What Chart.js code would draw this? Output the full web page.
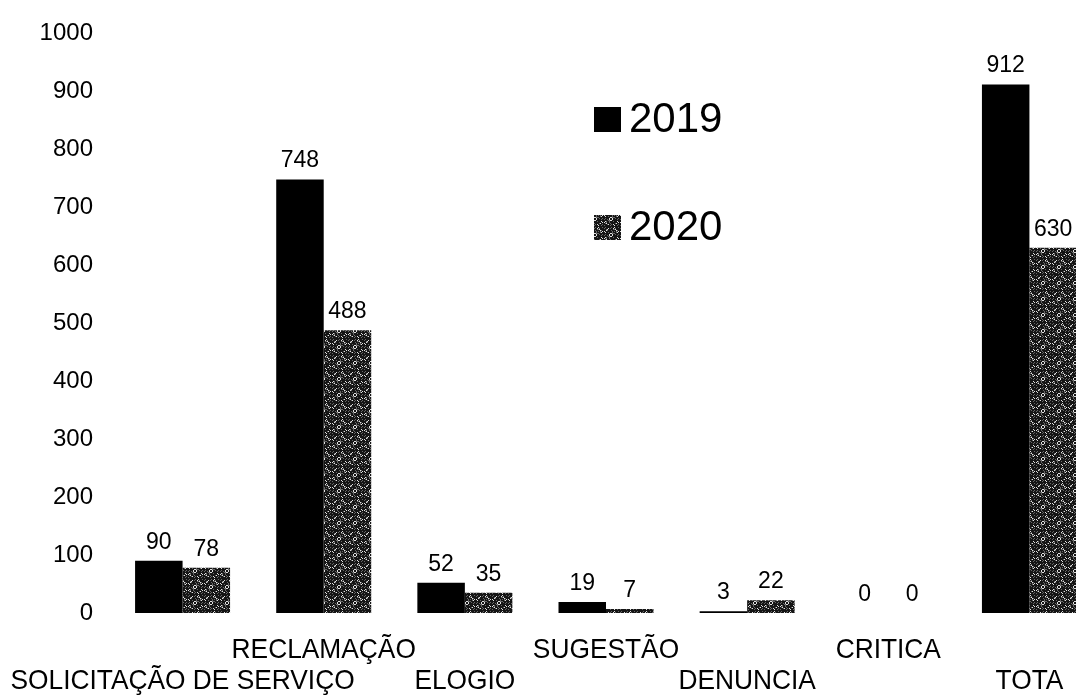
<!DOCTYPE html>
<html>
<head>
<meta charset="utf-8">
<script src="https://cdn.jsdelivr.net/npm/chart.js@4"></script>
<style>
  html, body { margin: 0; padding: 0; background: #fff; overflow: hidden; }
  #wrap { width: 1100px; height: 697px; }
</style>
</head>
<body>
<div id="wrap"><canvas id="grafico" width="1100" height="697"></canvas></div>
<script>
const categorias = ["SOLICITAÇÃO DE SERVIÇO", "RECLAMAÇÃO", "ELOGIO", "SUGESTÃO", "DENUNCIA", "CRITICA", "TOTA"];
const valores2019 = [90, 748, 52, 19, 3, 0, 912];
const valores2020 = [78, 488, 35, 7, 22, 0, 630];
const ticksY = [0, 100, 200, 300, 400, 500, 600, 700, 800, 900, 1000];

const FONTE = "'Liberation Sans', Arial, sans-serif";

// textura granulada escura para as barras de 2020
function criarTextura() {
  const c = document.createElement("canvas");
  c.width = 16;
  c.height = 16;
  const ctx = c.getContext("2d");
  ctx.fillStyle = "#151515";
  ctx.fillRect(0, 0, 16, 16);
  for (let y = 0; y < 16; y++) {
    for (let x = 0; x < 16; x++) {
      const h = (x * 7 + y * 13 + x * y * 5) % 17;
      if (h < 2) {
        ctx.fillStyle = "#e0e0e0";
        ctx.fillRect(x, y, 1, 1);
      } else if (h < 5) {
        ctx.fillStyle = "#666";
        ctx.fillRect(x, y, 1, 1);
      }
    }
  }
  return document.getElementById("grafico").getContext("2d").createPattern(c, "repeat");
}

const textura = criarTextura();

const rotulosValores = {
  id: "rotulosValores",
  afterDatasetsDraw(chart) {
    const ctx = chart.ctx;
    ctx.save();
    ctx.font = "23px " + FONTE;
    ctx.fillStyle = "#000";
    ctx.textAlign = "center";
    ctx.textBaseline = "alphabetic";
    chart.data.datasets.forEach((ds, i) => {
      chart.getDatasetMeta(i).data.forEach((barra, j) => {
        ctx.fillText(String(ds.data[j]), barra.x, barra.y - 12);
      });
    });
    ctx.restore();
  }
};

// rótulos do eixo x em duas fileiras alternadas, com a letra mais alta
const rotulosCategorias = {
  id: "rotulosCategorias",
  afterDraw(chart) {
    const ctx = chart.ctx;
    const escala = chart.scales.x;
    const fileiras = [681, 650];
    ctx.save();
    ctx.font = "28px " + FONTE;
    ctx.fillStyle = "#000";
    ctx.textAlign = "center";
    ctx.textBaseline = "middle";
    chart.data.labels.forEach((rotulo, i) => {
      ctx.save();
      ctx.translate(escala.getPixelForValue(i), fileiras[i % 2]);
      ctx.scale(0.94, 1);
      ctx.fillText(rotulo, 0, 0);
      ctx.restore();
    });
    ctx.restore();
  }
};

const legenda = {
  id: "legenda",
  afterDraw(chart) {
    const ctx = chart.ctx;
    ctx.save();
    ctx.font = "42px " + FONTE;
    ctx.textBaseline = "middle";
    ctx.textAlign = "left";
    const linhas = [119, 227];
    chart.data.datasets.forEach((ds, i) => {
      const y = linhas[i];
      ctx.fillStyle = ds.backgroundColor;
      ctx.fillRect(594, y - 12, 27, 25);
      ctx.fillStyle = "#000";
      ctx.fillText(ds.label, 629, y + 1);
    });
    ctx.restore();
  }
};

new Chart(document.getElementById("grafico"), {
  type: "bar",
  data: {
    labels: categorias,
    datasets: [
      { label: "2019", data: valores2019, backgroundColor: "#000" },
      { label: "2020", data: valores2020, backgroundColor: textura }
    ]
  },
  options: {
    responsive: false,
    animation: false,
    layout: { padding: { top: 27, left: 0, right: 0, bottom: 0 } },
    datasets: {
      bar: { barPercentage: 1, categoryPercentage: 0.673 }
    },
    plugins: {
      legend: { display: false },
      tooltip: { enabled: false }
    },
    scales: {
      x: {
        grid: { display: false, drawTicks: false },
        border: { display: false },
        ticks: { display: false },
        afterFit(scale) { scale.height = 84; }
      },
      y: {
        min: 0,
        max: 1000,
        grid: { display: false, drawTicks: false },
        border: { display: false },
        afterFit(scale) { scale.width = 112; },
        afterBuildTicks(scale) {
          scale.ticks = ticksY.map(v => ({ value: v }));
        },
        ticks: {
          padding: 19,
          color: "#000",
          font: { family: FONTE, size: 24 },
          callback: v => String(v)
        }
      }
    }
  },
  plugins: [rotulosValores, rotulosCategorias, legenda]
});
</script>
</body>
</html>
